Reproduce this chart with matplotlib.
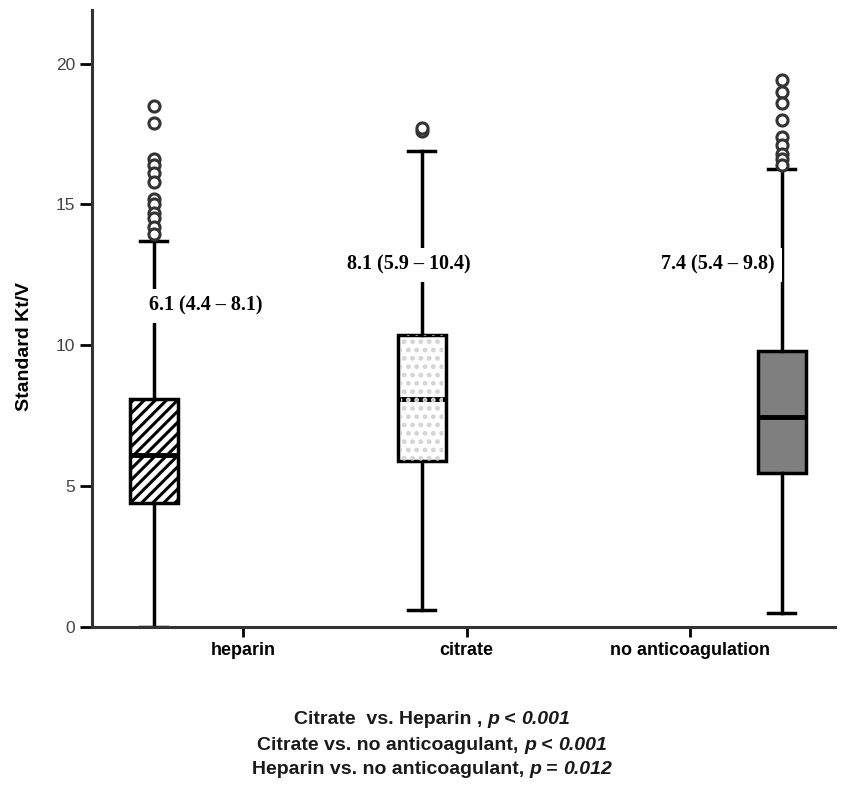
import matplotlib
matplotlib.use("Agg")
import matplotlib.pyplot as plt
from matplotlib.patches import Rectangle

# ---- data ----
groups = ['heparin', 'citrate', 'no anticoagulation']
box_pos = [0.60, 1.80, 3.41]          # boxes sit off the category ticks in the original
medians = [6.1, 8.1, 7.45]
q1 = [4.4, 5.9, 5.45]
q3 = [8.1, 10.35, 9.8]
whis_lo = [0.0, 0.6, 0.5]
whis_hi = [13.7, 16.9, 16.25]
fliers_hep = [18.5, 17.9, 16.6, 16.4, 16.1, 15.8, 15.2, 15.0, 14.7, 14.5, 14.2, 13.95]
fliers_cit = [17.6, 17.7]
fliers_none = [19.4, 19.0, 18.6, 18.0, 17.4, 17.1, 16.8, 16.6, 16.4]
labels = ['6.1 (4.4 – 8.1)', '8.1 (5.9 – 10.4)', '7.4 (5.4 – 9.8)']
label_x = [0.835, 1.74, 3.125]
label_y = [11.4, 12.85, 12.85]

W, H = 850, 802
fig = plt.figure(figsize=(W / 100, H / 100), dpi=100)
ax = fig.add_axes([92 / W, 1 - 627 / H, (835 - 92) / W, (627 - 10) / H])

stats = []
for i, fl in enumerate([fliers_hep, fliers_cit, fliers_none]):
    stats.append(dict(med=medians[i], q1=q1[i], q3=q3[i], whislo=whis_lo[i],
                      whishi=whis_hi[i], fliers=fl, label=groups[i]))

plt.rcParams['hatch.linewidth'] = 2.2
bp = ax.bxp(stats, positions=box_pos, widths=0.215, capwidths=0.12,
            patch_artist=True, showfliers=True,
            boxprops=dict(linewidth=2.5, edgecolor='black'),
            whiskerprops=dict(linewidth=2.5, color='black'),
            capprops=dict(linewidth=2.5, color='black'),
            medianprops=dict(linewidth=3.5, color='black'),
            flierprops=dict(marker='o', markersize=8, markerfacecolor='white',
                            markeredgecolor='#333333', markeredgewidth=2.2))

bp['boxes'][0].set_facecolor('white')
bp['boxes'][0].set_hatch('///')
bp['boxes'][1].set_facecolor('white')
bp['boxes'][2].set_facecolor('#7f7f7f')
# light dotted texture in the citrate box
ax.add_patch(Rectangle((box_pos[1] - 0.095, q1[1]), 0.19, q3[1] - q1[1],
                       fill=False, hatch='..', edgecolor='#d4d4d4', linewidth=0, zorder=2.5))

for x, y, s in zip(label_x, label_y, labels):
    ax.text(x, y, s, ha='center', va='center', fontsize=14.5, fontweight='bold',
            family=['Liberation Serif', 'DejaVu Serif'], zorder=5,
            bbox=dict(facecolor='white', edgecolor='none', pad=5))

ax.set_xlim(0.324, 3.649)
ax.set_ylim(0, 21.9)
ax.set_xticks([1, 2, 3])
ax.set_xticklabels(groups, fontsize=13, fontweight='bold',
                   family=['Liberation Sans', 'DejaVu Sans'])
ax.set_yticks([0, 5, 10, 15, 20])
ax.set_yticklabels(['0', '5', '10', '15', '20'], fontsize=12.5, color='#444444',
                   family=['Liberation Sans', 'DejaVu Sans'])
ax.tick_params(axis='y', length=9, width=2, direction='out', pad=3)
ax.tick_params(axis='x', length=7, width=2, direction='out', pad=4)
for s in ['top', 'right']:
    ax.spines[s].set_visible(False)
for s in ['left', 'bottom']:
    ax.spines[s].set_linewidth(2.2)
    ax.spines[s].set_color('#333333')

ax.set_ylabel('Standard Kt/V', fontsize=14, fontweight='bold',
              family=['Liberation Sans', 'DejaVu Sans'])
ax.yaxis.set_label_coords(-0.08, 0.455)

# p-value lines under the plot, mixed upright/italic
notes = [
    [('Citrate  vs. Heparin , ', 'normal'), ('p', 'italic'), (' < ', 'normal'), ('0.001', 'italic')],
    [('Citrate vs. no anticoagulant, ', 'normal'), ('p', 'italic'), (' < ', 'normal'), ('0.001', 'italic')],
    [('Heparin vs. no anticoagulant, ', 'normal'), ('p', 'italic'), (' = ', 'normal'), ('0.012', 'italic')],
]
note_y = [720, 745, 770]
renderer = fig.canvas.get_renderer()
for pieces, ypx in zip(notes, note_y):
    texts = []
    for s, st in pieces:
        t = fig.text(0, 1 - ypx / H, s, fontsize=14, fontweight='bold', style=st,
                     va='center', ha='left', color='#1a1a1a',
                     family=['Liberation Sans', 'DejaVu Sans'])
        texts.append(t)
    widths = [t.get_window_extent(renderer).width for t in texts]
    x = 432 - sum(widths) / 2
    for t, w in zip(texts, widths):
        t.set_x(x / W)
        x += w

fig.savefig('out.png', dpi=100)
